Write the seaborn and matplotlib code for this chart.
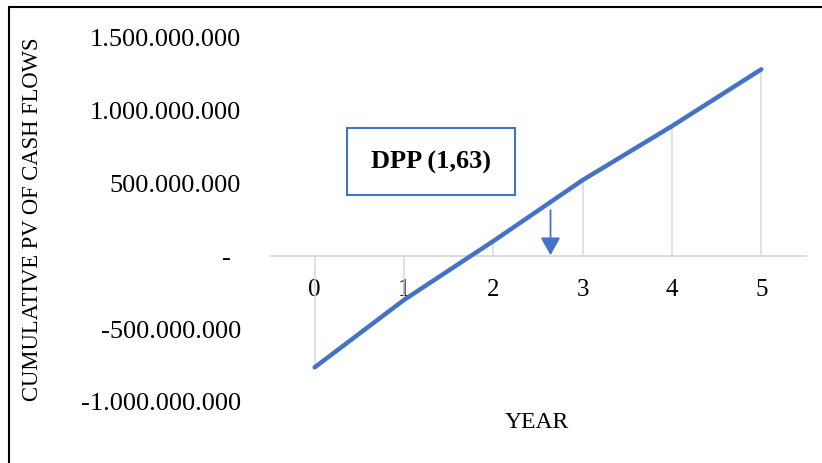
import matplotlib
matplotlib.use("Agg")
import matplotlib.pyplot as plt
import matplotlib.transforms as mtransforms
from matplotlib.patches import Rectangle
from matplotlib.lines import Line2D
import seaborn as sns
import pandas as pd

# data
years = [0, 1, 2, 3, 4, 5]
cum_pv = [-762e6, -299e6, 105e6, 524e6, 895e6, 1285e6]
y_ticks = [-1e9, -5e8, 0, 5e8, 1e9, 1.5e9]
y_tick_labels = ["-1.000.000.000", "-500.000.000", "-", "500.000.000",
                 "1.000.000.000", "1.500.000.000"]
dpp_label = "DPP (1,63)"
arrow_x = 2.64
arrow_from, arrow_to = 318e6, 8e6

sns.set_theme(style="white")
plt.rcParams["font.family"] = ["Liberation Serif", "DejaVu Serif"]
plt.rcParams["text.color"] = "black"
plt.rcParams["xtick.color"] = "black"
plt.rcParams["ytick.color"] = "black"

BLUE = "#4472C4"
GRID = "#d9d9d9"

df = pd.DataFrame({"year": years, "cum_pv": cum_pv})

fig = plt.figure(figsize=(8.22, 4.63), dpi=100)
W, H = 822, 463
ax = fig.add_axes([270 / W, 1 - 402 / H, (806 - 270) / W, (402 - 38) / H])

# drop lines from axis to each point
ax.vlines(df["year"], 0, df["cum_pv"], color=GRID, lw=1.1, zorder=1)
sns.lineplot(data=df, x="year", y="cum_pv", color=BLUE, lw=3.2,
             solid_capstyle="round", ax=ax, zorder=3)

ax.set_xlim(-0.5, 5.5)
ax.set_ylim(-1e9, 1.5e9)

for s in ["top", "right", "left"]:
    ax.spines[s].set_visible(False)
ax.spines["bottom"].set_position(("data", 0))
ax.spines["bottom"].set_color(GRID)
ax.spines["bottom"].set_linewidth(1.3)

ax.set_xticks(years)
ax.set_xticklabels([str(y) for y in years])
ax.tick_params(axis="x", length=0, pad=16, labelsize=18, labelcolor="black")
ax.set_yticks(y_ticks)
ax.set_yticklabels(y_tick_labels)
ax.tick_params(axis="y", length=0, pad=21, labelsize=19, labelcolor="black")
# zero label sits a bit further left, like the accounting format
zero_lbl = ax.get_yticklabels()[2]
zero_lbl.set_transform(zero_lbl.get_transform() +
                       mtransforms.ScaledTranslation(-10 / 100, 0, fig.dpi_scale_trans))

ax.set_xlabel("")
ax.set_ylabel("")
fig.text(537 / W, 1 - 422 / H, "YEAR", ha="center", va="center", fontsize=17)
fig.text(33 / W, 1 - 219 / H, "CUMULATIVE PV OF CASH FLOWS", rotation=90,
         ha="center", va="center", fontsize=16.3)

# DPP box + arrow
fig.patches.append(Rectangle((347 / W, 1 - 195 / H), (515 - 347) / W, (195 - 128) / H,
                             transform=fig.transFigure, fill=False, ec=BLUE, lw=1.5))
fig.text(431 / W, 1 - 162 / H, dpp_label, ha="center", va="center",
         fontsize=19, fontweight="bold")
ax.annotate("", xy=(arrow_x, arrow_to), xytext=(arrow_x, arrow_from),
            arrowprops=dict(arrowstyle="-|>,head_width=0.5,head_length=0.9",
                            color=BLUE, lw=1.3, shrinkA=0, shrinkB=0))

# outer frame (top and left edges)
fig.add_artist(Line2D([9 / W, 1], [1 - 7 / H, 1 - 7 / H], transform=fig.transFigure,
                      color="black", lw=1.5))
fig.add_artist(Line2D([9 / W, 9 / W], [0, 1 - 7 / H], transform=fig.transFigure,
                      color="black", lw=1.5))

fig.savefig("out.png", dpi=100)
